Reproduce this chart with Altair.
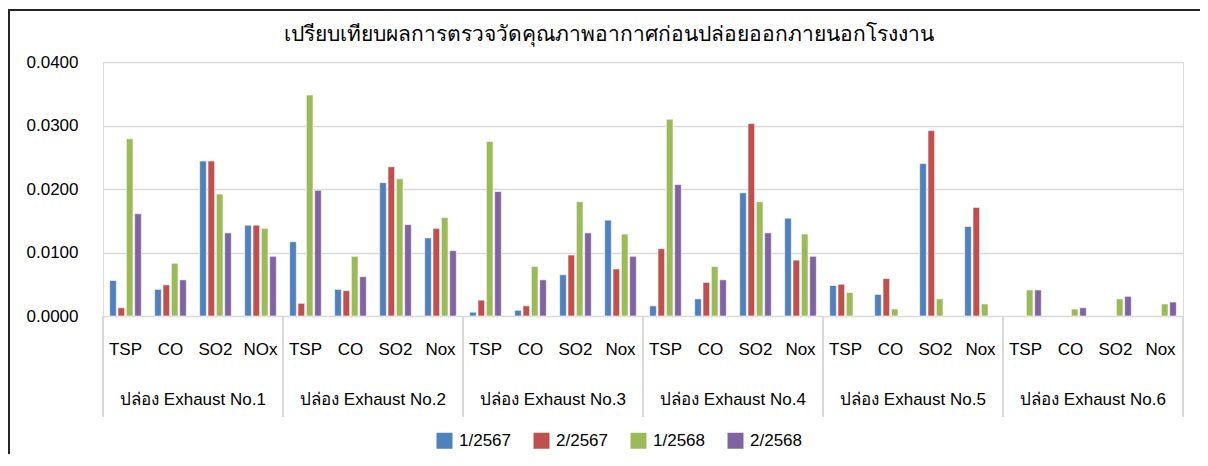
import altair as alt
import pandas as pd

TITLE = "เปรียบเทียบผลการตรวจวัดคุณภาพอากาศก่อนปล่อยออกภายนอกโรงงาน"

groups = ["ปล่อง Exhaust No.1", "ปล่อง Exhaust No.2", "ปล่อง Exhaust No.3",
          "ปล่อง Exhaust No.4", "ปล่อง Exhaust No.5", "ปล่อง Exhaust No.6"]
pollutants = [
    ["TSP", "CO", "SO2", "NOx"],
    ["TSP", "CO", "SO2", "Nox"],
    ["TSP", "CO", "SO2", "Nox"],
    ["TSP", "CO", "SO2", "Nox"],
    ["TSP", "CO", "SO2", "Nox"],
    ["TSP", "CO", "SO2", "Nox"],
]
series = ["1/2567", "2/2567", "1/2568", "2/2568"]
colors = ["#4F81BD", "#C0504D", "#9BBB59", "#8064A2"]

v_1_2567 = [0.0056, 0.0042, 0.0244, 0.0143,
            0.0117, 0.0042, 0.0210, 0.0123,
            0.0006, 0.0009, 0.0065, 0.0151,
            0.0016, 0.0027, 0.0194, 0.0154,
            0.0048, 0.0034, 0.0240, 0.0141,
            None, None, None, None]
v_2_2567 = [0.0013, 0.0049, 0.0244, 0.0143,
            0.0020, 0.0040, 0.0235, 0.0138,
            0.0025, 0.0016, 0.0096, 0.0074,
            0.0106, 0.0053, 0.0303, 0.0088,
            0.0050, 0.0059, 0.0292, 0.0171,
            None, None, None, None]
v_1_2568 = [0.0279, 0.0083, 0.0192, 0.0138,
            0.0348, 0.0094, 0.0216, 0.0155,
            0.0275, 0.0078, 0.0180, 0.0129,
            0.0310, 0.0078, 0.0180, 0.0129,
            0.0037, 0.0011, 0.0027, 0.0019,
            0.0041, 0.0011, 0.0027, 0.0019]
v_2_2568 = [0.0161, 0.0057, 0.0131, 0.0094,
            0.0198, 0.0062, 0.0144, 0.0103,
            0.0196, 0.0057, 0.0131, 0.0094,
            0.0207, 0.0057, 0.0131, 0.0094,
            None, None, None, None,
            0.0041, 0.0013, 0.0031, 0.0022]
y_ticks = [0.0, 0.01, 0.02, 0.03, 0.04]

FONT = "Liberation Sans, Arial, Noto Sans, sans-serif"
W, H = 1080, 254

cats = []
for gi, plist in enumerate(pollutants):
    for p in plist:
        cats.append(f"{gi}|{p}")

rows = []
for s, vals in zip(series, [v_1_2567, v_2_2567, v_1_2568, v_2_2568]):
    for c, v in zip(cats, vals):
        if v is not None:
            rows.append({"cat": c, "series": s, "value": v})
df = pd.DataFrame(rows)

xscale = alt.Scale(domain=cats, paddingInner=0, paddingOuter=0)
xaxis = alt.Axis(title=None, labelExpr="split(datum.value, '|')[1]",
                 labelAngle=0, ticks=False, domain=False, grid=False,
                 labelPadding=25, labelFontSize=17, labelColor="black",
                 labelFont=FONT, labelOverlap=False, labelLimit=0)

bars = alt.Chart(df).mark_bar(stroke="white", strokeWidth=1, strokeOpacity=0.6).encode(
    x=alt.X("cat:N", scale=xscale, sort=cats, axis=xaxis),
    xOffset=alt.XOffset("series:N", sort=series,
                        scale=alt.Scale(domain=series, paddingInner=0.2, paddingOuter=0.8)),
    y=alt.Y("value:Q", scale=alt.Scale(domain=[0, 0.04], nice=False),
            axis=alt.Axis(title=None, values=y_ticks, format=".4f", domain=False,
                          ticks=False, grid=True, gridColor="#d9d9d9", gridWidth=1.5,
                          labelPadding=25, labelFontSize=17, labelColor="black",
                          labelFont=FONT)),
    color=alt.Color("series:N", sort=series,
                    scale=alt.Scale(domain=series, range=colors),
                    legend=alt.Legend(orient="none", legendX=333, legendY=370,
                                      direction="horizontal", title=None,
                                      symbolType="square", symbolSize=256,
                                      symbolStrokeWidth=0, labelFontSize=17,
                                      labelFont=FONT, labelColor="black",
                                      labelOffset=6, columnPadding=22)),
)

grp_df = pd.DataFrame({"cat": [f"{gi}|CO" for gi in range(len(groups))], "group": groups})
group_text = alt.Chart(grp_df).mark_text(fontSize=17, font=FONT, color="black",
                                         baseline="middle", align="center").encode(
    x=alt.X("cat:N", scale=xscale, sort=cats, bandPosition=1, axis=xaxis),
    y=alt.value(338),
    text="group:N",
)

start_df = pd.DataFrame({"cat": [f"{gi}|TSP" for gi in range(len(groups))]})
end_df = pd.DataFrame({"cat": [cats[-1]]})
div_start = alt.Chart(start_df).mark_rule(color="#d9d9d9", strokeWidth=2).encode(
    x=alt.X("cat:N", scale=xscale, sort=cats, bandPosition=0, axis=xaxis),
    y=alt.value(H), y2=alt.value(355),
)
div_end = alt.Chart(end_df).mark_rule(color="#d9d9d9", strokeWidth=2).encode(
    x=alt.X("cat:N", scale=xscale, sort=cats, bandPosition=1, axis=xaxis),
    y=alt.value(H), y2=alt.value(355),
)

title_df = pd.DataFrame({"t": [TITLE]})
title = alt.Chart(title_df).mark_text(fontSize=21, font=FONT, color="black",
                                      baseline="middle", align="center").encode(
    x=alt.value(505.5), y=alt.value(-27), text="t:N",
)

frame_df = pd.DataFrame({"k": [0]})
frame_left = alt.Chart(frame_df).mark_rect(color="#262626", strokeWidth=0).encode(
    x=alt.value(-95), x2=alt.value(-93), y=alt.value(-53), y2=alt.value(392),
)
frame_top = alt.Chart(frame_df).mark_rect(color="#262626", strokeWidth=0).encode(
    x=alt.value(-95), x2=alt.value(1097), y=alt.value(-53), y2=alt.value(-51),
)

chart = alt.layer(frame_left, frame_top, div_start, div_end, bars, group_text, title).properties(
    width=W, height=H,
    padding={"left": 95, "top": 54, "right": 17, "bottom": 138},
    autosize=alt.AutoSizeParams(type="none"),
).configure_view(stroke=None).configure(background="white")

chart.save("out.html", embed_options={"renderer": "svg", "actions": False})
